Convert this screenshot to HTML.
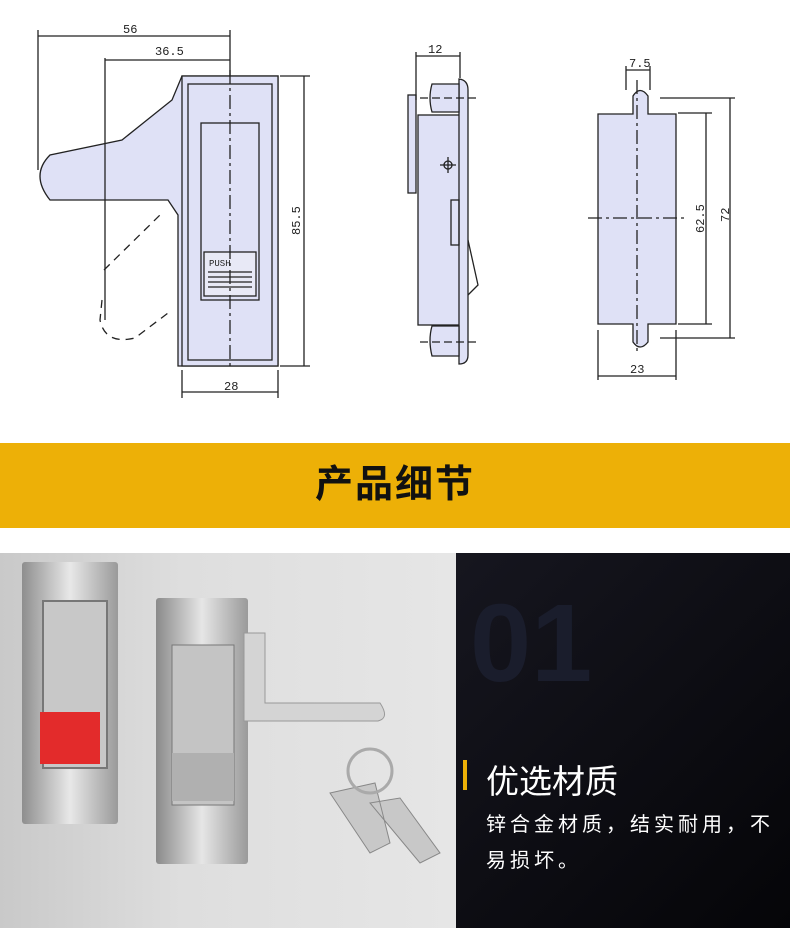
<!DOCTYPE html>
<html><head><meta charset="utf-8"><style>
body{margin:0;width:790px;height:928px;overflow:hidden;background:#fff;font-family:"Liberation Sans","Noto Sans CJK SC",sans-serif;position:relative}
.abs{position:absolute}
</style></head><body>
<svg class="abs" style="left:0;top:0" width="790" height="443" viewBox="0 0 790 443" font-family="Liberation Mono, monospace" font-size="12" fill="none" stroke="#222" stroke-width="1.3">
<path d="M182 76 L172 100 L122 140 L50 155 Q30 175 50 200 L168 200 L178 215 L178 366 L278 366 L278 76 Z" fill="#dfe1f6"/>
<rect x="182" y="76" width="96" height="290" fill="#dfe1f6"/>
<rect x="188" y="84" width="84" height="276"/>
<rect x="201" y="123" width="58" height="177"/>
<rect x="204" y="252" width="52" height="44" fill="#e8e9f6"/>
<text x="209" y="266" font-size="9" fill="#222" stroke="none">PUSH</text>
<path d="M208 272 H252 M208 277 H252 M208 282 H252 M208 287 H252"/>
<path d="M230 70 V370" stroke-dasharray="14 4 3 4"/>
<path d="M104 270 L160 215 M102 300 L100 320 Q105 345 135 338 L172 310" stroke-dasharray="8 6"/>
<path d="M38 30 V170 M230 30 V76 M38 36 H230 M105 58 V320 M105 60 H230 M280 76 H310 M280 366 H310 M304 76 V366 M182 370 V398 M278 370 V398 M182 392 H278"/>
<text x="123" y="33" fill="#222" stroke="none">56</text>
<text x="155" y="55" fill="#222" stroke="none">36.5</text>
<text x="300" y="235" fill="#222" stroke="none" transform="rotate(-90 300 235)">85.5</text>
<text x="224" y="390" fill="#222" stroke="none">28</text>
<rect x="418" y="115" width="43" height="210" fill="#dfe1f6"/>
<rect x="408" y="95" width="8" height="98" fill="#dfe1f6"/>
<path d="M459 79 Q468 80 468 90 V355 Q468 364 459 364 Z" fill="#dfe1f6"/>
<path d="M432 84 H459 V112 H432 Q428 98 432 84 Z M432 326 H459 V356 H432 Q428 340 432 326 Z" fill="#dfe1f6"/>
<rect x="451" y="200" width="8" height="45"/>
<path d="M468 240 L478 285 L468 295"/>
<circle cx="448" cy="165" r="4"/><path d="M440 165 H456 M448 157 V173"/>
<path d="M420 98 H478 M420 342 H478" stroke-dasharray="8 4"/>
<path d="M416 52 V100 M460 52 V78 M416 56 H460"/>
<text x="428" y="53" fill="#222" stroke="none">12</text>
<path d="M598 114 H633 V96 Q640 85 648 96 V114 H676 V324 H648 V342 Q640 352 633 342 V324 H598 Z" fill="#dfe1f6"/>
<path d="M637 80 V355 M588 218 H688" stroke-dasharray="14 4 3 4"/>
<path d="M626 66 V90 M650 66 V90 M626 70 H650 M660 98 H735 M678 113 H712 M678 324 H712 M660 338 H735 M706 113 V324 M730 98 V338 M598 330 V380 M676 330 V380 M598 376 H676"/>
<text x="629" y="67" fill="#222" stroke="none">7.5</text>
<text x="704" y="233" fill="#222" stroke="none" transform="rotate(-90 704 233)">62.5</text>
<text x="729" y="222" fill="#222" stroke="none" transform="rotate(-90 729 222)">72</text>
<text x="630" y="373" fill="#222" stroke="none">23</text>
</svg>
<div class="abs" style="left:0;top:443px;width:790px;height:85px;background:#edb007;text-align:center;line-height:85px;font-size:38px;font-weight:bold;color:#111;letter-spacing:2px">产品细节</div>
<div class="abs" style="left:0;top:553px;width:456px;height:375px;background:linear-gradient(90deg,#c9c9c9,#dedede 40%,#e6e6e6)"></div>
<div class="abs" style="left:22px;top:562px;width:96px;height:262px;background:linear-gradient(90deg,#8e8e8e,#e8e8e8,#9a9a9a);border-radius:3px"></div>
<div class="abs" style="left:42px;top:600px;width:62px;height:165px;background:#c8c8c8;border:2px solid #777"></div>
<div class="abs" style="left:40px;top:712px;width:60px;height:52px;background:#e32b2b"></div>
<div class="abs" style="left:156px;top:598px;width:92px;height:266px;background:linear-gradient(90deg,#8a8a8a,#e6e6e6,#9a9a9a);border-radius:3px"></div>
<svg class="abs" style="left:0;top:553px" width="456" height="375"><path d="M244 80 L265 80 L265 150 L380 150 Q390 165 378 168 L244 168 Z" fill="#d4d4d4" stroke="#999"/><rect x="172" y="92" width="62" height="160" fill="#c4c4c4" stroke="#777"/><rect x="172" y="200" width="62" height="48" fill="#b0b0b0"/><path d="M330 240 L375 230 L390 290 L370 300 Z M370 250 L400 245 L440 300 L420 310 Z" fill="#c8c8c8" stroke="#888"/><circle cx="370" cy="218" r="22" fill="none" stroke="#aaa" stroke-width="3"/></svg>
<div class="abs" style="left:456px;top:553px;width:334px;height:375px;background:linear-gradient(135deg,#16161f,#050508)"></div>
<div class="abs" style="left:470px;top:580px;font-size:110px;font-weight:bold;color:#1a1d2c">01</div>
<div class="abs" style="left:463px;top:760px;width:4px;height:30px;background:#edb007"></div>
<div class="abs" style="left:486px;top:755px;font-size:33px;color:#fff">优选材质</div>
<div class="abs" style="left:486px;top:807px;white-space:nowrap;font-size:20px;line-height:36px;letter-spacing:4px;color:#fff">锌合金材质，结实耐用，不<br>易损坏。</div>
</body></html>
